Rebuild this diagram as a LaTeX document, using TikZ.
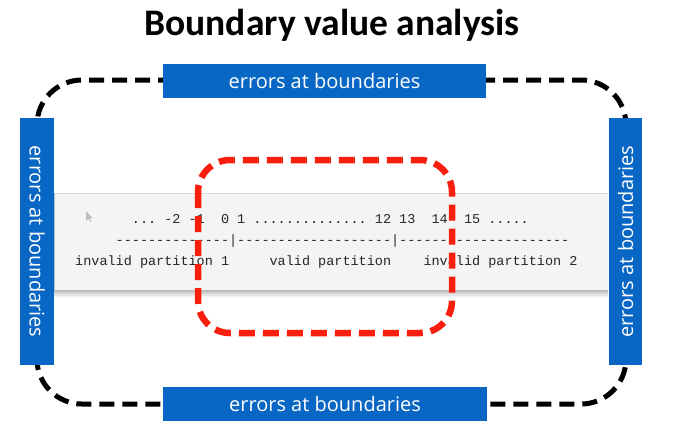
\documentclass[tikz,border=0pt]{standalone}
\usepackage{fontspec}
\setmainfont{Carlito}
\setsansfont{Open Sans}
\setmonofont{Liberation Mono}
\definecolor{boxblue}{RGB}{8,102,196}
\definecolor{dashred}{RGB}{250,30,15}
\definecolor{panelgray}{RGB}{244,244,244}
\begin{document}
\begin{tikzpicture}[x=1pt,y=-1pt,
  bluebox/.style={fill=boxblue,draw=none,inner sep=0pt,text=white,
    font=\sffamily\fontsize{20}{23}\selectfont},
  codeline/.style={anchor=base west,inner sep=0pt,text=black!85,
    font=\ttfamily\fontsize{13.5}{16}\selectfont},
  blackdash/.style={draw=black,line width=5pt,dash pattern=on 15pt off 8pt},
  reddash/.style={draw=dashred,line width=6.5pt,dash pattern=on 16pt off 8pt}]
\useasboundingbox (0,0) rectangle (685,432);
\fill[white] (0,0) rectangle (685,432);
% title
\node[font=\bfseries\fontsize{37.5}{41}\selectfont,anchor=base] (title) at (332,35) {Boundary value analysis};
% outer black dashed rounded rectangle
\draw[blackdash,rounded corners=45pt] (37,80) rectangle (626,404);
% panel shadow
\foreach \o/\op in {8/0.04,6/0.06,4/0.08,2/0.1}{
  \fill[black,opacity=\op] (55-\o/3,193) rectangle (608,290+\o);
}
\fill[panelgray] (55,193) rectangle (608,290);
\draw[black!15,line width=0.8pt] (55,193) -- (608,193);
% cursor
\fill[black!25] (86,211) -- (86,221) -- (88.5,218.5) -- (90.5,222) -- (91.5,221.5) -- (89.5,218) -- (92.5,218) -- cycle;
% code lines
\node[codeline] (l1) at (75,223) {~~~~~~~...~-2~-1~~0~1~..............~12~13~~14~~15~.....};
\node[codeline] (l2) at (75,244) {~~~~~--------------|-------------------|---------------------};
\node[codeline] (l3) at (75,265) {invalid~partition~1~~~~~valid~partition~~~~invalid~partition~2};
% red dashed rounded rectangle
\draw[reddash,rounded corners=32pt] (198,160) rectangle (452,333);
% blue boxes
\node[bluebox,minimum width=323pt,minimum height=34pt] (top) at (324.5,81) {errors at boundaries};
\node[bluebox,minimum width=324pt,minimum height=34pt] (bottom) at (325,404) {errors at boundaries};
\node[bluebox,minimum width=247pt,minimum height=34pt,rotate=-90] (left) at (37,241.5) {errors at boundaries};
\node[bluebox,minimum width=247pt,minimum height=33pt,rotate=90] (right) at (625.5,241.5) {errors at boundaries};
\end{tikzpicture}
\end{document}
